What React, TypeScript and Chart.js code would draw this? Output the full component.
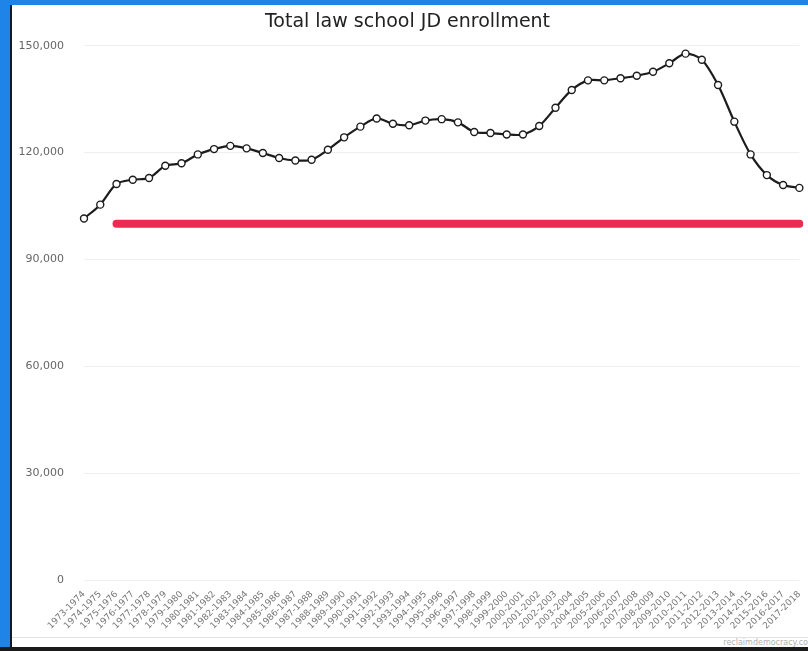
import React, { useEffect, useRef } from "react";
import { Chart, registerables } from "chart.js";

Chart.register(...registerables);

const TITLE = "Total law school JD enrollment";

const YEAR_LABELS = [
  "1973-1974", "1974-1975", "1975-1976", "1976-1977", "1977-1978", "1978-1979",
  "1979-1980", "1980-1981", "1981-1982", "1982-1983", "1983-1984", "1984-1985",
  "1985-1986", "1986-1987", "1987-1988", "1988-1989", "1989-1990", "1990-1991",
  "1991-1992", "1992-1993", "1993-1994", "1994-1995", "1995-1996", "1996-1997",
  "1997-1998", "1998-1999", "1999-2000", "2000-2001", "2001-2002", "2002-2003",
  "2003-2004", "2004-2005", "2005-2006", "2006-2007", "2007-2008", "2008-2009",
  "2009-2010", "2010-2011", "2011-2012", "2012-2013", "2013-2014", "2014-2015",
  "2015-2016", "2016-2017", "2017-2018",
];

const ENROLLMENT = [
  101500, 105400, 111200, 112400, 112900, 116300, 117000, 119500, 121000, 121900,
  121200, 119900, 118500, 117800, 118000, 120800, 124300, 127300, 129600, 128100,
  127700, 129000, 129400, 128500, 125800, 125500, 125100, 125100, 127500, 132600,
  137600, 140300, 140300, 140900, 141600, 142700, 145100, 147800, 146100, 139000,
  128700, 119500, 113700, 110900, 110100,
];

const REFERENCE_LINE = [
  null, null, 100000, 100000, 100000, 100000, 100000, 100000, 100000, 100000,
  100000, 100000, 100000, 100000, 100000, 100000, 100000, 100000, 100000, 100000,
  100000, 100000, 100000, 100000, 100000, 100000, 100000, 100000, 100000, 100000,
  100000, 100000, 100000, 100000, 100000, 100000, 100000, 100000, 100000, 100000,
  100000, 100000, 100000, 100000, 100000,
];

const Y_MIN = 0;
const Y_MAX = 150000;
const Y_STEP = 30000;

function LineChart() {
  const ref = useRef<HTMLCanvasElement | null>(null);
  useEffect(() => {
    if (!ref.current) return;
    const chart = new Chart(ref.current, {
      type: "line",
      data: {
        labels: YEAR_LABELS,
        datasets: [
          {
            label: "Reference",
            data: REFERENCE_LINE as any,
            borderColor: "#ec2a52",
            borderWidth: 8,
            borderCapStyle: "round",
            pointRadius: 0,
            fill: false,
            spanGaps: false,
            order: 2,
          },
          {
            label: "JD enrollment",
            data: ENROLLMENT,
            borderColor: "#1c1c1c",
            borderWidth: 2.2,
            tension: 0.3,
            pointRadius: 3.5,
            pointBackgroundColor: "#ffffff",
            pointBorderColor: "#1c1c1c",
            pointBorderWidth: 1.4,
            fill: false,
            order: 1,
          },
        ],
      },
      options: {
        animation: false,
        responsive: false,
        maintainAspectRatio: false,
        layout: { padding: { left: 0, right: 5, top: 0, bottom: 5 } },
        plugins: {
          legend: { display: false },
          tooltip: { enabled: false },
          title: {
            display: true,
            text: TITLE,
            color: "#222222",
            font: { family: "DejaVu Sans", size: 19, weight: "normal" },
            padding: { top: 6, bottom: 12 },
          },
        },
        scales: {
          x: {
            offset: false,
            grid: { display: false },
            border: { display: false },
            ticks: {
              autoSkip: false,
              maxRotation: 45,
              minRotation: 45,
              color: "#777777",
              font: { family: "DejaVu Sans", size: 9 },
              padding: 1,
            },
            afterFit: (s: any) => {
              s.height = 52;
            },
          },
          y: {
            min: Y_MIN,
            max: Y_MAX,
            grid: { color: "#eeeeee", drawTicks: false },
            border: { display: false },
            ticks: {
              stepSize: Y_STEP,
              color: "#666666",
              padding: 20,
              font: { family: "DejaVu Sans", size: 11 },
              callback: (v: any) => Number(v).toLocaleString("en-US"),
            },
            afterFit: (s: any) => {
              s.width = 72;
            },
          },
        },
      },
    });
    return () => chart.destroy();
  }, []);
  return <canvas ref={ref} width={796} height={632} style={{ display: "block" }} />;
}

export default function App() {
  return (
    <div
      style={{
        position: "fixed",
        left: 0,
        top: 0,
        width: 808,
        height: 651,
        background: "#1f84e8",
        overflow: "hidden",
      }}
    >
      <div
        style={{
          position: "absolute",
          left: 10,
          top: 5,
          width: 798,
          height: 642,
          background: "#ffffff",
          borderLeft: "2px solid #0d1a2e",
          boxSizing: "border-box",
        }}
      />
      <div style={{ position: "absolute", left: 12, top: 5 }}>
        <LineChart />
      </div>
      <div
        style={{
          position: "absolute",
          left: 12,
          top: 637,
          width: 796,
          height: 1,
          background: "#e2e2e2",
        }}
      />
      <div
        style={{
          position: "absolute",
          left: 0,
          top: 647,
          width: 808,
          height: 4,
          background: "#1a1a1a",
        }}
      />
      <div
        style={{
          position: "absolute",
          right: 0,
          top: 638,
          fontFamily: "DejaVu Sans",
          fontSize: 8,
          color: "#b0b0b0",
          whiteSpace: "nowrap",
        }}
      >
        reclaimdemocracy.co
      </div>
    </div>
  );
}
